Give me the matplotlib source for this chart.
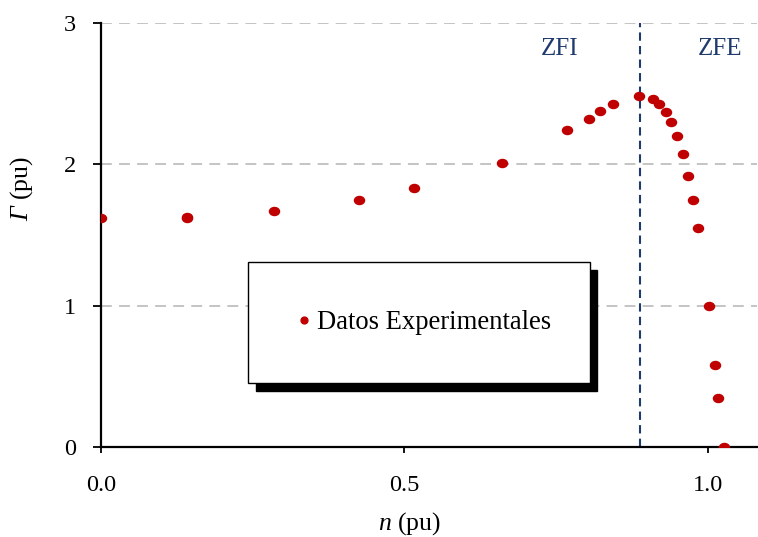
import matplotlib
matplotlib.use("Agg")
import matplotlib.pyplot as plt
from matplotlib.markers import MarkerStyle
from matplotlib.transforms import Affine2D

plt.rcParams['font.family'] = ['Liberation Serif', 'DejaVu Serif']
plt.rcParams['mathtext.fontset'] = 'custom'
plt.rcParams['mathtext.rm'] = 'Liberation Serif:italic'
plt.rcParams['mathtext.it'] = 'Liberation Serif:italic'

# speed (pu) and torque (pu)
speed = [0.0, 0.142, 0.142, 0.285, 0.425, 0.516, 0.661, 0.768, 0.804, 0.822,
         0.843, 0.886, 0.909, 0.919, 0.931, 0.939, 0.949, 0.959, 0.967, 0.975,
         0.984, 1.002, 1.012, 1.016, 1.026]
torque = [1.62, 1.62, 1.63, 1.67, 1.75, 1.83, 2.01, 2.24, 2.32, 2.38,
          2.43, 2.48, 2.46, 2.43, 2.37, 2.30, 2.20, 2.07, 1.92, 1.75,
          1.55, 1.00, 0.58, 0.35, 0.0]
boundary = 0.888
zones = ["ZFI", "ZFE"]
navy = "#1F3A6E"
red = "#C00000"

fig = plt.figure(figsize=(7.58, 5.37), dpi=100)
ax = fig.add_axes([101/758, 90/537, 656/758, 424/537])

ellipse = MarkerStyle('o', transform=Affine2D().scale(1.25, 1.0))
ax.plot(speed, torque, linestyle='none', marker=ellipse, markersize=5.8,
        color=red, label="Datos Experimentales", zorder=3)

ax.axvline(boundary, color=navy, linestyle=(0, (4, 2.5)), linewidth=1.5, zorder=2)
ax.text(0.756, 2.816, zones[0], color=navy, fontsize=18, ha='center', va='center')
ax.text(1.020, 2.816, zones[1], color=navy, fontsize=18, ha='center', va='center')

ax.set_xlim(0, 1.081)
ax.set_ylim(0, 3)
ax.set_xticks([0, 0.5, 1.0])
ax.set_xticklabels(["0.0", "0.5", "1.0"])
ax.set_yticks([0, 1, 2, 3])
ax.yaxis.grid(True, color='#BFBFBF', linestyle=(0, (6, 4)), linewidth=1.3)
ax.set_axisbelow(True)
for side in ('top', 'right'):
    ax.spines[side].set_visible(False)
for side in ('left', 'bottom'):
    ax.spines[side].set_linewidth(1.6)
ax.tick_params(axis='both', labelsize=17.5)
ax.tick_params(axis='x', direction='out', length=4, width=1.3, pad=16)
ax.tick_params(axis='y', direction='out', length=6, width=1.3, pad=12)
ax.set_xlabel(r"$\mathit{n}$ (pu)", fontsize=18.5)
ax.set_ylabel(r"$\Gamma$ (pu)", fontsize=18.5)
ax.xaxis.set_label_coords(0.47, -0.148)
ax.yaxis.set_label_coords(-0.10, 0.61)

leg = ax.legend(loc='lower left', bbox_to_anchor=(0.224, 0.151, 0.521, 0.283),
                mode='expand', borderaxespad=0, borderpad=1.8, fontsize=19.2,
                handlelength=0.6, handletextpad=0.2, markerscale=0.85,
                fancybox=False,
                shadow={'color': 'black', 'alpha': 1, 'ox': 5.5, 'oy': -5.5},
                framealpha=1, edgecolor='black')
leg.get_frame().set_linewidth(1.0)
leg.legend_handles[0].set_marker('o')

fig.savefig("out.png", dpi=100)
